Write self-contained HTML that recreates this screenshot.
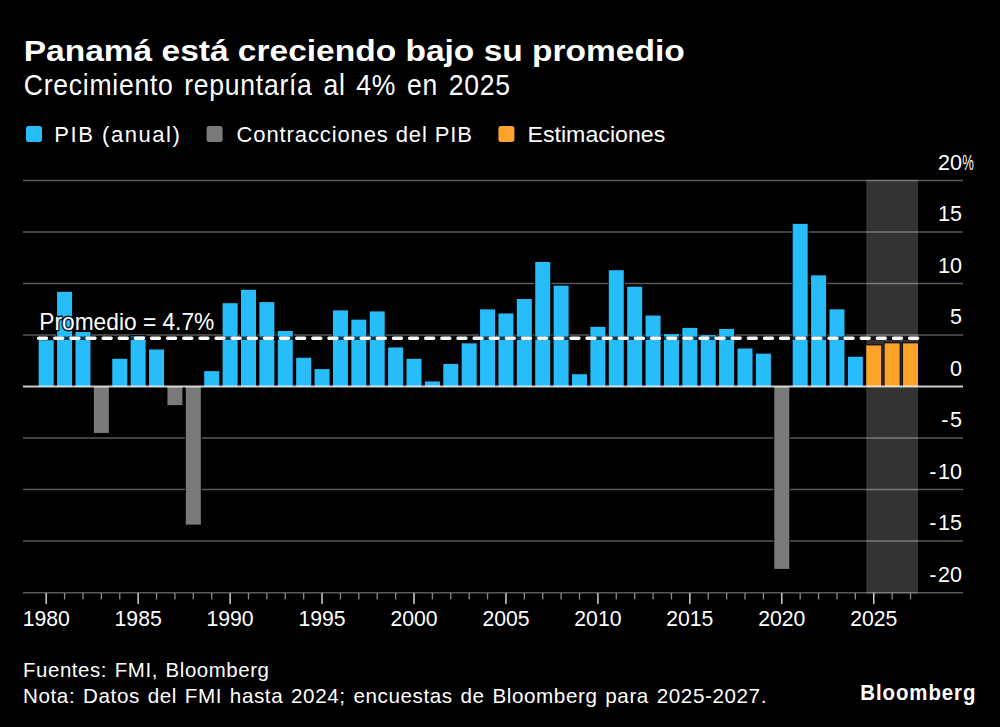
<!DOCTYPE html><html><head><meta charset="utf-8"><style>html,body{margin:0;padding:0;background:#000;width:1000px;height:727px;overflow:hidden}svg{display:block}text{font-family:"Liberation Sans",sans-serif;fill:#fff}</style></head><body>
<svg width="1000" height="727" viewBox="0 0 1000 727">
<rect x="0" y="0" width="1000" height="727" fill="#000"/>
<text x="23.7" y="61.3" font-size="30" font-weight="bold" textLength="661" lengthAdjust="spacingAndGlyphs">Panamá está creciendo bajo su promedio</text>
<text x="23.8" y="94.7" font-size="29.5" textLength="487" lengthAdjust="spacingAndGlyphs" style="letter-spacing:0.8px;word-spacing:3px">Crecimiento repuntaría al 4% en 2025</text>
<rect x="26" y="126" width="16" height="16" rx="2.5" fill="#27BDFB"/>
<rect x="206.6" y="126" width="16" height="16" rx="2.5" fill="#7A7A7A"/>
<rect x="498.4" y="126" width="16" height="16" rx="2.5" fill="#FDA32A"/>
<text x="54.3" y="141.6" font-size="22" textLength="125.5" lengthAdjust="spacing">PIB (anual)</text>
<text x="236.5" y="141.6" font-size="22" textLength="235.5" lengthAdjust="spacing">Contracciones del PIB</text>
<text x="527.5" y="141.6" font-size="22" textLength="137.8" lengthAdjust="spacingAndGlyphs">Estimaciones</text>
<line x1="23" y1="180.60" x2="963" y2="180.60" stroke="#5E5E5E" stroke-width="1.5" stroke-opacity="0.95"/>
<line x1="23" y1="232.10" x2="963" y2="232.10" stroke="#5E5E5E" stroke-width="1.5" stroke-opacity="0.95"/>
<line x1="23" y1="283.60" x2="963" y2="283.60" stroke="#5E5E5E" stroke-width="1.5" stroke-opacity="0.95"/>
<line x1="23" y1="335.10" x2="963" y2="335.10" stroke="#5E5E5E" stroke-width="1.5" stroke-opacity="0.95"/>
<line x1="23" y1="438.10" x2="963" y2="438.10" stroke="#5E5E5E" stroke-width="1.5" stroke-opacity="0.95"/>
<line x1="23" y1="489.60" x2="963" y2="489.60" stroke="#5E5E5E" stroke-width="1.5" stroke-opacity="0.95"/>
<line x1="23" y1="541.10" x2="963" y2="541.10" stroke="#5E5E5E" stroke-width="1.5" stroke-opacity="0.95"/>
<line x1="23" y1="592.80" x2="963" y2="592.80" stroke="#5E5E5E" stroke-width="1.5" stroke-opacity="0.95"/>
<rect x="866.25" y="179.85" width="51.78" height="413.65" fill="#fff" fill-opacity="0.2"/>
<text x="962" y="169.50" font-size="21.5" text-anchor="end">20</text>
<text x="962" y="221.00" font-size="21.5" text-anchor="end">15</text>
<text x="962" y="272.50" font-size="21.5" text-anchor="end">10</text>
<text x="962" y="324.00" font-size="21.5" text-anchor="end">5</text>
<text x="962" y="375.50" font-size="21.5" text-anchor="end">0</text>
<text x="962" y="427.00" font-size="21.5" text-anchor="end">-<tspan dx="1.6">5</tspan></text>
<text x="962" y="478.50" font-size="21.5" text-anchor="end">-<tspan dx="1.6">10</tspan></text>
<text x="962" y="530.00" font-size="21.5" text-anchor="end">-<tspan dx="1.6">15</tspan></text>
<text x="962" y="581.70" font-size="21.5" text-anchor="end">-<tspan dx="1.6">20</tspan></text>
<text x="962.3" y="169.50" font-size="21.5" textLength="11.6" lengthAdjust="spacingAndGlyphs">%</text>
<rect x="37.70" y="339.25" width="17.0" height="48.35" fill="#000" fill-opacity="0.85"/>
<rect x="38.70" y="340.25" width="15.0" height="46.35" fill="#27BDFB"/>
<rect x="56.09" y="290.84" width="17.0" height="96.76" fill="#000" fill-opacity="0.85"/>
<rect x="57.09" y="291.84" width="15.0" height="94.76" fill="#27BDFB"/>
<rect x="74.48" y="331.01" width="17.0" height="56.59" fill="#000" fill-opacity="0.85"/>
<rect x="75.48" y="332.01" width="15.0" height="54.59" fill="#27BDFB"/>
<rect x="92.87" y="385.60" width="17.0" height="48.35" fill="#000" fill-opacity="0.85"/>
<rect x="93.87" y="386.60" width="15.0" height="46.35" fill="#7A7A7A"/>
<rect x="111.26" y="357.79" width="17.0" height="29.81" fill="#000" fill-opacity="0.85"/>
<rect x="112.26" y="358.79" width="15.0" height="27.81" fill="#27BDFB"/>
<rect x="129.65" y="335.13" width="17.0" height="52.47" fill="#000" fill-opacity="0.85"/>
<rect x="130.65" y="336.13" width="15.0" height="50.47" fill="#27BDFB"/>
<rect x="148.04" y="348.52" width="17.0" height="39.08" fill="#000" fill-opacity="0.85"/>
<rect x="149.04" y="349.52" width="15.0" height="37.08" fill="#27BDFB"/>
<rect x="166.43" y="385.60" width="17.0" height="20.54" fill="#000" fill-opacity="0.85"/>
<rect x="167.43" y="386.60" width="15.0" height="18.54" fill="#7A7A7A"/>
<rect x="184.82" y="385.60" width="17.0" height="140.02" fill="#000" fill-opacity="0.85"/>
<rect x="185.82" y="386.60" width="15.0" height="138.02" fill="#7A7A7A"/>
<rect x="203.21" y="370.15" width="17.0" height="17.45" fill="#000" fill-opacity="0.85"/>
<rect x="204.21" y="371.15" width="15.0" height="15.45" fill="#27BDFB"/>
<rect x="221.60" y="302.17" width="17.0" height="85.43" fill="#000" fill-opacity="0.85"/>
<rect x="222.60" y="303.17" width="15.0" height="83.43" fill="#27BDFB"/>
<rect x="239.99" y="288.78" width="17.0" height="98.82" fill="#000" fill-opacity="0.85"/>
<rect x="240.99" y="289.78" width="15.0" height="96.82" fill="#27BDFB"/>
<rect x="258.38" y="301.14" width="17.0" height="86.46" fill="#000" fill-opacity="0.85"/>
<rect x="259.38" y="302.14" width="15.0" height="84.46" fill="#27BDFB"/>
<rect x="276.77" y="329.98" width="17.0" height="57.62" fill="#000" fill-opacity="0.85"/>
<rect x="277.77" y="330.98" width="15.0" height="55.62" fill="#27BDFB"/>
<rect x="295.16" y="356.76" width="17.0" height="30.84" fill="#000" fill-opacity="0.85"/>
<rect x="296.16" y="357.76" width="15.0" height="28.84" fill="#27BDFB"/>
<rect x="313.55" y="368.09" width="17.0" height="19.51" fill="#000" fill-opacity="0.85"/>
<rect x="314.55" y="369.09" width="15.0" height="17.51" fill="#27BDFB"/>
<rect x="331.94" y="309.38" width="17.0" height="78.22" fill="#000" fill-opacity="0.85"/>
<rect x="332.94" y="310.38" width="15.0" height="76.22" fill="#27BDFB"/>
<rect x="350.33" y="318.65" width="17.0" height="68.95" fill="#000" fill-opacity="0.85"/>
<rect x="351.33" y="319.65" width="15.0" height="66.95" fill="#27BDFB"/>
<rect x="368.72" y="310.41" width="17.0" height="77.19" fill="#000" fill-opacity="0.85"/>
<rect x="369.72" y="311.41" width="15.0" height="75.19" fill="#27BDFB"/>
<rect x="387.11" y="346.46" width="17.0" height="41.14" fill="#000" fill-opacity="0.85"/>
<rect x="388.11" y="347.46" width="15.0" height="39.14" fill="#27BDFB"/>
<rect x="405.50" y="357.79" width="17.0" height="29.81" fill="#000" fill-opacity="0.85"/>
<rect x="406.50" y="358.79" width="15.0" height="27.81" fill="#27BDFB"/>
<rect x="423.89" y="380.45" width="17.0" height="7.15" fill="#000" fill-opacity="0.85"/>
<rect x="424.89" y="381.45" width="15.0" height="5.15" fill="#27BDFB"/>
<rect x="442.28" y="362.94" width="17.0" height="24.66" fill="#000" fill-opacity="0.85"/>
<rect x="443.28" y="363.94" width="15.0" height="22.66" fill="#27BDFB"/>
<rect x="460.67" y="342.34" width="17.0" height="45.26" fill="#000" fill-opacity="0.85"/>
<rect x="461.67" y="343.34" width="15.0" height="43.26" fill="#27BDFB"/>
<rect x="479.06" y="308.35" width="17.0" height="79.25" fill="#000" fill-opacity="0.85"/>
<rect x="480.06" y="309.35" width="15.0" height="77.25" fill="#27BDFB"/>
<rect x="497.45" y="312.47" width="17.0" height="75.13" fill="#000" fill-opacity="0.85"/>
<rect x="498.45" y="313.47" width="15.0" height="73.13" fill="#27BDFB"/>
<rect x="515.84" y="298.05" width="17.0" height="89.55" fill="#000" fill-opacity="0.85"/>
<rect x="516.84" y="299.05" width="15.0" height="87.55" fill="#27BDFB"/>
<rect x="534.23" y="260.97" width="17.0" height="126.63" fill="#000" fill-opacity="0.85"/>
<rect x="535.23" y="261.97" width="15.0" height="124.63" fill="#27BDFB"/>
<rect x="552.62" y="284.66" width="17.0" height="102.94" fill="#000" fill-opacity="0.85"/>
<rect x="553.62" y="285.66" width="15.0" height="100.94" fill="#27BDFB"/>
<rect x="571.01" y="373.24" width="17.0" height="14.36" fill="#000" fill-opacity="0.85"/>
<rect x="572.01" y="374.24" width="15.0" height="12.36" fill="#27BDFB"/>
<rect x="589.40" y="325.86" width="17.0" height="61.74" fill="#000" fill-opacity="0.85"/>
<rect x="590.40" y="326.86" width="15.0" height="59.74" fill="#27BDFB"/>
<rect x="607.79" y="269.21" width="17.0" height="118.39" fill="#000" fill-opacity="0.85"/>
<rect x="608.79" y="270.21" width="15.0" height="116.39" fill="#27BDFB"/>
<rect x="626.18" y="285.69" width="17.0" height="101.91" fill="#000" fill-opacity="0.85"/>
<rect x="627.18" y="286.69" width="15.0" height="99.91" fill="#27BDFB"/>
<rect x="644.57" y="314.53" width="17.0" height="73.07" fill="#000" fill-opacity="0.85"/>
<rect x="645.57" y="315.53" width="15.0" height="71.07" fill="#27BDFB"/>
<rect x="662.96" y="333.07" width="17.0" height="54.53" fill="#000" fill-opacity="0.85"/>
<rect x="663.96" y="334.07" width="15.0" height="52.53" fill="#27BDFB"/>
<rect x="681.35" y="326.89" width="17.0" height="60.71" fill="#000" fill-opacity="0.85"/>
<rect x="682.35" y="327.89" width="15.0" height="58.71" fill="#27BDFB"/>
<rect x="699.74" y="334.10" width="17.0" height="53.50" fill="#000" fill-opacity="0.85"/>
<rect x="700.74" y="335.10" width="15.0" height="51.50" fill="#27BDFB"/>
<rect x="718.13" y="327.92" width="17.0" height="59.68" fill="#000" fill-opacity="0.85"/>
<rect x="719.13" y="328.92" width="15.0" height="57.68" fill="#27BDFB"/>
<rect x="736.52" y="347.49" width="17.0" height="40.11" fill="#000" fill-opacity="0.85"/>
<rect x="737.52" y="348.49" width="15.0" height="38.11" fill="#27BDFB"/>
<rect x="754.91" y="352.64" width="17.0" height="34.96" fill="#000" fill-opacity="0.85"/>
<rect x="755.91" y="353.64" width="15.0" height="32.96" fill="#27BDFB"/>
<rect x="773.30" y="385.60" width="17.0" height="184.31" fill="#000" fill-opacity="0.85"/>
<rect x="774.30" y="386.60" width="15.0" height="182.31" fill="#7A7A7A"/>
<rect x="791.69" y="222.86" width="17.0" height="164.74" fill="#000" fill-opacity="0.85"/>
<rect x="792.69" y="223.86" width="15.0" height="162.74" fill="#27BDFB"/>
<rect x="810.08" y="274.36" width="17.0" height="113.24" fill="#000" fill-opacity="0.85"/>
<rect x="811.08" y="275.36" width="15.0" height="111.24" fill="#27BDFB"/>
<rect x="828.47" y="308.35" width="17.0" height="79.25" fill="#000" fill-opacity="0.85"/>
<rect x="829.47" y="309.35" width="15.0" height="77.25" fill="#27BDFB"/>
<rect x="846.86" y="355.73" width="17.0" height="31.87" fill="#000" fill-opacity="0.85"/>
<rect x="847.86" y="356.73" width="15.0" height="29.87" fill="#27BDFB"/>
<rect x="865.25" y="344.40" width="17.0" height="43.20" fill="#000" fill-opacity="0.85"/>
<rect x="866.25" y="345.40" width="15.0" height="41.20" fill="#FDA32A"/>
<rect x="883.64" y="342.34" width="17.0" height="45.26" fill="#000" fill-opacity="0.85"/>
<rect x="884.64" y="343.34" width="15.0" height="43.26" fill="#FDA32A"/>
<rect x="902.03" y="342.34" width="17.0" height="45.26" fill="#000" fill-opacity="0.85"/>
<rect x="903.03" y="343.34" width="15.0" height="43.26" fill="#FDA32A"/>
<line x1="23" y1="386.60" x2="963" y2="386.60" stroke="#fff" stroke-opacity="0.8" stroke-width="2"/>
<line x1="46.20" y1="593" x2="46.20" y2="604" stroke="#d0d0d0" stroke-width="1.5"/>
<text x="46.20" y="626" font-size="21.2" text-anchor="middle">1980</text>
<line x1="64.59" y1="593" x2="64.59" y2="599.5" stroke="#8a8a8a" stroke-width="1.3"/>
<line x1="82.98" y1="593" x2="82.98" y2="599.5" stroke="#8a8a8a" stroke-width="1.3"/>
<line x1="101.37" y1="593" x2="101.37" y2="599.5" stroke="#8a8a8a" stroke-width="1.3"/>
<line x1="119.76" y1="593" x2="119.76" y2="599.5" stroke="#8a8a8a" stroke-width="1.3"/>
<line x1="138.15" y1="593" x2="138.15" y2="604" stroke="#d0d0d0" stroke-width="1.5"/>
<text x="138.15" y="626" font-size="21.2" text-anchor="middle">1985</text>
<line x1="156.54" y1="593" x2="156.54" y2="599.5" stroke="#8a8a8a" stroke-width="1.3"/>
<line x1="174.93" y1="593" x2="174.93" y2="599.5" stroke="#8a8a8a" stroke-width="1.3"/>
<line x1="193.32" y1="593" x2="193.32" y2="599.5" stroke="#8a8a8a" stroke-width="1.3"/>
<line x1="211.71" y1="593" x2="211.71" y2="599.5" stroke="#8a8a8a" stroke-width="1.3"/>
<line x1="230.10" y1="593" x2="230.10" y2="604" stroke="#d0d0d0" stroke-width="1.5"/>
<text x="230.10" y="626" font-size="21.2" text-anchor="middle">1990</text>
<line x1="248.49" y1="593" x2="248.49" y2="599.5" stroke="#8a8a8a" stroke-width="1.3"/>
<line x1="266.88" y1="593" x2="266.88" y2="599.5" stroke="#8a8a8a" stroke-width="1.3"/>
<line x1="285.27" y1="593" x2="285.27" y2="599.5" stroke="#8a8a8a" stroke-width="1.3"/>
<line x1="303.66" y1="593" x2="303.66" y2="599.5" stroke="#8a8a8a" stroke-width="1.3"/>
<line x1="322.05" y1="593" x2="322.05" y2="604" stroke="#d0d0d0" stroke-width="1.5"/>
<text x="322.05" y="626" font-size="21.2" text-anchor="middle">1995</text>
<line x1="340.44" y1="593" x2="340.44" y2="599.5" stroke="#8a8a8a" stroke-width="1.3"/>
<line x1="358.83" y1="593" x2="358.83" y2="599.5" stroke="#8a8a8a" stroke-width="1.3"/>
<line x1="377.22" y1="593" x2="377.22" y2="599.5" stroke="#8a8a8a" stroke-width="1.3"/>
<line x1="395.61" y1="593" x2="395.61" y2="599.5" stroke="#8a8a8a" stroke-width="1.3"/>
<line x1="414.00" y1="593" x2="414.00" y2="604" stroke="#d0d0d0" stroke-width="1.5"/>
<text x="414.00" y="626" font-size="21.2" text-anchor="middle">2000</text>
<line x1="432.39" y1="593" x2="432.39" y2="599.5" stroke="#8a8a8a" stroke-width="1.3"/>
<line x1="450.78" y1="593" x2="450.78" y2="599.5" stroke="#8a8a8a" stroke-width="1.3"/>
<line x1="469.17" y1="593" x2="469.17" y2="599.5" stroke="#8a8a8a" stroke-width="1.3"/>
<line x1="487.56" y1="593" x2="487.56" y2="599.5" stroke="#8a8a8a" stroke-width="1.3"/>
<line x1="505.95" y1="593" x2="505.95" y2="604" stroke="#d0d0d0" stroke-width="1.5"/>
<text x="505.95" y="626" font-size="21.2" text-anchor="middle">2005</text>
<line x1="524.34" y1="593" x2="524.34" y2="599.5" stroke="#8a8a8a" stroke-width="1.3"/>
<line x1="542.73" y1="593" x2="542.73" y2="599.5" stroke="#8a8a8a" stroke-width="1.3"/>
<line x1="561.12" y1="593" x2="561.12" y2="599.5" stroke="#8a8a8a" stroke-width="1.3"/>
<line x1="579.51" y1="593" x2="579.51" y2="599.5" stroke="#8a8a8a" stroke-width="1.3"/>
<line x1="597.90" y1="593" x2="597.90" y2="604" stroke="#d0d0d0" stroke-width="1.5"/>
<text x="597.90" y="626" font-size="21.2" text-anchor="middle">2010</text>
<line x1="616.29" y1="593" x2="616.29" y2="599.5" stroke="#8a8a8a" stroke-width="1.3"/>
<line x1="634.68" y1="593" x2="634.68" y2="599.5" stroke="#8a8a8a" stroke-width="1.3"/>
<line x1="653.07" y1="593" x2="653.07" y2="599.5" stroke="#8a8a8a" stroke-width="1.3"/>
<line x1="671.46" y1="593" x2="671.46" y2="599.5" stroke="#8a8a8a" stroke-width="1.3"/>
<line x1="689.85" y1="593" x2="689.85" y2="604" stroke="#d0d0d0" stroke-width="1.5"/>
<text x="689.85" y="626" font-size="21.2" text-anchor="middle">2015</text>
<line x1="708.24" y1="593" x2="708.24" y2="599.5" stroke="#8a8a8a" stroke-width="1.3"/>
<line x1="726.63" y1="593" x2="726.63" y2="599.5" stroke="#8a8a8a" stroke-width="1.3"/>
<line x1="745.02" y1="593" x2="745.02" y2="599.5" stroke="#8a8a8a" stroke-width="1.3"/>
<line x1="763.41" y1="593" x2="763.41" y2="599.5" stroke="#8a8a8a" stroke-width="1.3"/>
<line x1="781.80" y1="593" x2="781.80" y2="604" stroke="#d0d0d0" stroke-width="1.5"/>
<text x="781.80" y="626" font-size="21.2" text-anchor="middle">2020</text>
<line x1="800.19" y1="593" x2="800.19" y2="599.5" stroke="#8a8a8a" stroke-width="1.3"/>
<line x1="818.58" y1="593" x2="818.58" y2="599.5" stroke="#8a8a8a" stroke-width="1.3"/>
<line x1="836.97" y1="593" x2="836.97" y2="599.5" stroke="#8a8a8a" stroke-width="1.3"/>
<line x1="855.36" y1="593" x2="855.36" y2="599.5" stroke="#8a8a8a" stroke-width="1.3"/>
<line x1="873.75" y1="593" x2="873.75" y2="604" stroke="#d0d0d0" stroke-width="1.5"/>
<text x="873.75" y="626" font-size="21.2" text-anchor="middle">2025</text>
<line x1="892.14" y1="593" x2="892.14" y2="599.5" stroke="#8a8a8a" stroke-width="1.3"/>
<line x1="910.53" y1="593" x2="910.53" y2="599.5" stroke="#8a8a8a" stroke-width="1.3"/>
<line x1="37.2" y1="338.19" x2="919.2" y2="338.19" stroke="#000" stroke-width="3.4" stroke-opacity="0.7"/>
<line x1="38.6" y1="338.19" x2="917.8" y2="338.19" stroke="#fff" stroke-width="3.4" stroke-dasharray="8.0 8.13" stroke-linecap="round"/>
<text x="39.3" y="329.6" font-size="24" textLength="175" lengthAdjust="spacingAndGlyphs" stroke="#000" stroke-width="3" stroke-linejoin="round" paint-order="stroke" style="stroke-opacity:0.85">Promedio = 4.7%</text>
<text x="23" y="677.4" font-size="21" textLength="246.5" lengthAdjust="spacingAndGlyphs" style="letter-spacing:0.6px;word-spacing:1.5px">Fuentes: FMI, Bloomberg</text>
<text x="23" y="703" font-size="21" textLength="744" lengthAdjust="spacingAndGlyphs" style="letter-spacing:0.6px;word-spacing:1.5px">Nota: Datos del FMI hasta 2024; encuestas de Bloomberg para 2025-2027.</text>
<text x="860.3" y="700.1" font-size="22" font-weight="bold" textLength="116" lengthAdjust="spacingAndGlyphs" style="letter-spacing:1px">Bloomberg</text>
</svg></body></html>
